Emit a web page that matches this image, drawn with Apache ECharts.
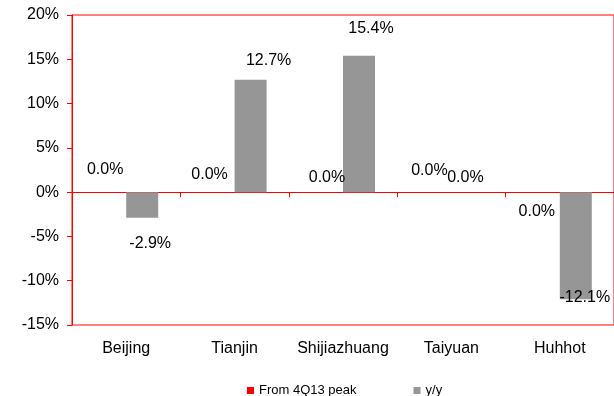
<!DOCTYPE html>
<html>
<head>
<meta charset="utf-8">
<script src="https://cdn.jsdelivr.net/npm/echarts@6/dist/echarts.min.js"></script>
<style>html,body{margin:0;padding:0;background:#fff}#c{width:614px;height:396px}</style>
</head>
<body>
<div id="c"></div>
<script>
var categories = ['Beijing', 'Tianjin', 'Shijiazhuang', 'Taiyuan', 'Huhhot'];
var fromPeak = [0.0, 0.0, 0.0, 0.0, 0.0];
var yoy = [-2.9, 12.7, 15.4, 0.0, -12.1];
var yTicks = { min: -15, max: 20, interval: 5 };

// label nudges (style only)
var peakLabelOffsets = [[-5, -10], [-9, -5], [0, -2], [-6, -9], [-7, 32]];
var yoyLabelOffsets = [[8, 13], [18, -6], [12, -14], [-2, -2], [9, -15]];

var FONT = 'Liberation Sans, Arial, sans-serif';
function fmt(p) { return p.value.toFixed(1) + '%'; }

var chart = echarts.init(document.getElementById('c'), null, { renderer: 'canvas' });
chart.setOption({
  animation: false,
  textStyle: { fontFamily: FONT },
  grid: { left: 72, top: 15, width: 546, height: 310, show: true, borderColor: '#ff0000', borderWidth: 1, backgroundColor: 'transparent' },
  legend: {
    left: 242, top: 379, itemWidth: 7, itemHeight: 7, itemGap: 57,
    textStyle: { fontSize: 13, color: '#000', fontFamily: FONT },
    data: [
      { name: 'From 4Q13 peak', icon: 'rect' },
      { name: 'y/y', icon: 'rect' }
    ]
  },
  xAxis: [
    {
      type: 'category', data: categories, position: 'bottom',
      axisLine: { show: false, onZero: false }, axisTick: { show: false },
      axisLabel: { interval: 0, fontSize: 16, color: '#000', margin: 16, fontFamily: FONT },
      splitLine: { show: false }
    },
    {
      type: 'category', data: categories, position: 'bottom',
      axisLine: { show: true, onZero: true, lineStyle: { color: '#ff0000', width: 1 } },
      axisTick: { show: true, interval: 0, inside: false, length: 5, lineStyle: { color: '#ff0000', width: 1 } },
      axisLabel: { show: false, interval: 0 },
      splitLine: { show: false }
    }
  ],
  yAxis: {
    type: 'value', min: yTicks.min, max: yTicks.max, interval: yTicks.interval,
    axisLine: { show: true, lineStyle: { color: '#ff0000', width: 1 } },
    axisTick: { show: true, length: 5, lineStyle: { color: '#ff0000' } },
    axisLabel: { fontSize: 16, color: '#000', margin: 13, formatter: '{value}%', fontFamily: FONT },
    splitLine: { show: false }
  },
  series: [
    {
      name: 'From 4Q13 peak', type: 'bar', xAxisIndex: 0, barWidth: 32, barGap: '0%',
      itemStyle: { color: '#ff0000' },
      data: fromPeak.map(function (v, i) {
        return { value: v, label: { offset: peakLabelOffsets[i] } };
      }),
      label: { show: true, position: 'top', formatter: fmt, fontSize: 16, color: '#000', fontFamily: FONT }
    },
    {
      name: 'y/y', type: 'bar', xAxisIndex: 0, barWidth: 32, barGap: '0%',
      itemStyle: { color: '#969696' },
      data: yoy.map(function (v, i) {
        return { value: v, label: { position: v < 0 ? 'bottom' : 'top', offset: yoyLabelOffsets[i] } };
      }),
      label: { show: true, formatter: fmt, fontSize: 16, color: '#000', fontFamily: FONT }
    }
  ]
});
</script>
</body>
</html>
